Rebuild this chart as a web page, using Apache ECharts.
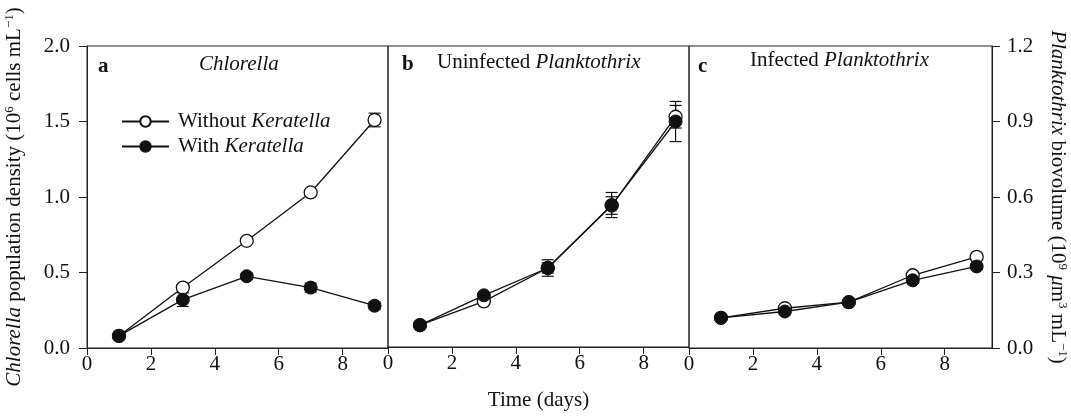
<!DOCTYPE html>
<html>
<head>
<meta charset="utf-8">
<script src="https://cdn.jsdelivr.net/npm/echarts@6/dist/echarts.min.js"></script>
<style>html,body{margin:0;padding:0;background:#fff}#c{width:1071px;height:416px}</style>
</head>
<body>
<div id="c"></div>
<script>
// ---- data ----
const days = [1, 3, 5, 7, 9];
const xTickValues = [0, 2, 4, 6, 8];

const chlorellaWithout = [0.08, 0.40, 0.71, 1.03, 1.51];
const chlorellaWithoutErr = [0.005, 0.01, 0.015, 0.02, 0.045];
const chlorellaWith = [0.08, 0.32, 0.475, 0.40, 0.28];
const chlorellaWithErr = [0.005, 0.045, 0.02, 0.03, 0.025];

const uninfWithout = [0.087, 0.182, 0.315, 0.564, 0.918];
const uninfWithoutErr = [0.004, 0.01, 0.02, 0.035, 0.045];
const uninfWith = [0.087, 0.206, 0.315, 0.566, 0.899];
const uninfWithErr = [0.004, 0.01, 0.033, 0.05, 0.08];

const infWithout = [0.12, 0.158, 0.182, 0.289, 0.362];
const infWithoutErr = [0.003, 0.006, 0.006, 0.008, 0.01];
const infWith = [0.12, 0.145, 0.182, 0.269, 0.324];
const infWithErr = [0.003, 0.006, 0.006, 0.008, 0.01];

const NAME_WITHOUT = 'Without Keratella';
const NAME_WITH = 'With Keratella';

// ---- style ----
const FONT = 'Liberation Serif';
const INK = '#111';
const FS = 21;

const rich = {
  i: {fontStyle: 'italic', fontWeight: 'normal', fontFamily: FONT, fontSize: FS, color: INK},
  n: {fontWeight: 'normal', fontFamily: FONT, fontSize: FS, color: INK},
  sup: {fontWeight: 'normal', fontFamily: FONT, fontSize: 13, color: INK, verticalAlign: 'top'},
  b: {fontWeight: 'bold', fontFamily: FONT, fontSize: FS, color: INK}
};

const grids = [
  {left: 87, top: 46, width: 301, height: 302},
  {left: 388, top: 46, width: 301, height: 302},
  {left: 689, top: 46, width: 303, height: 302}
].map(g => Object.assign(g, {show: true, borderColor: '#222', borderWidth: 1, backgroundColor: 'transparent'}));

const XMAX = 9.42;
const xAxes = [0, 1, 2].map(i => ({
  type: 'value', gridIndex: i, min: 0, max: i === 2 ? 9.48 : XMAX,
  axisLine: {show: true, onZero: false, lineStyle: {color: '#222', width: 1}},
  axisTick: {show: true, length: 7, lineStyle: {color: '#222'}, customValues: xTickValues},
  axisLabel: {show: true, margin: 6, customValues: xTickValues, fontFamily: FONT, fontSize: FS, color: INK,
    formatter: v => String(v)},
  splitLine: {show: false},
  name: i === 1 ? 'Time (days)' : '',
  nameLocation: 'middle', nameGap: 43,
  nameTextStyle: {fontFamily: FONT, fontSize: FS, color: INK}
}));

const yAxes = [
  {
    type: 'value', gridIndex: 0, min: 0, max: 2.0, interval: 0.5, position: 'left',
    axisLine: {show: true, onZero: false, lineStyle: {color: '#222'}},
    axisTick: {show: true, length: 8, lineStyle: {color: '#222'}},
    axisLabel: {margin: 17, fontFamily: FONT, fontSize: FS, color: INK, formatter: v => v.toFixed(1)},
    splitLine: {show: false},
    name: '{i|Chlorella}{n| population density (10}{sup|6}{n| cells mL}{sup|−1}{n|)}',
    nameLocation: 'middle', nameRotate: 90, nameGap: 62,
    nameTextStyle: {rich: rich, lineHeight: 22}
  },
  {
    type: 'value', gridIndex: 1, min: 0, max: 1.2, interval: 0.3, show: false
  },
  {
    type: 'value', gridIndex: 2, min: 0, max: 1.2, interval: 0.3, position: 'right',
    axisLine: {show: true, onZero: false, lineStyle: {color: '#222'}},
    axisTick: {show: true, length: 8, lineStyle: {color: '#222'}},
    axisLabel: {margin: 15, fontFamily: FONT, fontSize: FS, color: INK, formatter: v => v.toFixed(1)},
    splitLine: {show: false},
    name: '{i|Planktothrix}{n| biovolume (10}{sup|9}{n| }{i|μ}{n|m}{sup|3}{n| mL}{sup|−1}{n|)}',
    nameLocation: 'middle', nameRotate: -90, nameGap: 55,
    nameTextStyle: {rich: rich, lineHeight: 22}
  }
];

function lineSeries(name, vals, idx, hollow) {
  return {
    type: 'line', name: name, xAxisIndex: idx, yAxisIndex: idx,
    data: days.map((d, i) => [d, vals[i]]),
    symbol: 'circle', symbolSize: 13, z: 3,
    lineStyle: {color: INK, width: 1.3},
    itemStyle: hollow ? {color: '#fff', borderColor: INK, borderWidth: 1.3}
                      : {color: INK, borderColor: INK, borderWidth: 1},
    emphasis: {disabled: true},
    animation: false
  };
}

function errSeries(vals, errs, idx) {
  return {
    type: 'custom', xAxisIndex: idx, yAxisIndex: idx, z: 1,
    data: days.map((d, i) => [d, vals[i], errs[i]]),
    encode: {x: 0, y: 1},
    silent: true, animation: false,
    renderItem: function (params, api) {
      const x = api.value(0), y = api.value(1), e = api.value(2);
      const top = api.coord([x, y + e]);
      const bot = api.coord([x, y - e]);
      const w = 6;
      const st = {stroke: INK, lineWidth: 1.2};
      return {
        type: 'group',
        children: [
          {type: 'line', shape: {x1: top[0], y1: top[1], x2: bot[0], y2: bot[1]}, style: st},
          {type: 'line', shape: {x1: top[0] - w, y1: top[1], x2: top[0] + w, y2: top[1]}, style: st},
          {type: 'line', shape: {x1: bot[0] - w, y1: bot[1], x2: bot[0] + w, y2: bot[1]}, style: st}
        ]
      };
    }
  };
}

const series = [
  errSeries(chlorellaWithout, chlorellaWithoutErr, 0),
  errSeries(chlorellaWith, chlorellaWithErr, 0),
  errSeries(uninfWithout, uninfWithoutErr, 1),
  errSeries(uninfWith, uninfWithErr, 1),
  errSeries(infWithout, infWithoutErr, 2),
  errSeries(infWith, infWithErr, 2),
  lineSeries(NAME_WITHOUT, chlorellaWithout, 0, true),
  lineSeries(NAME_WITH, chlorellaWith, 0, false),
  lineSeries(NAME_WITHOUT, uninfWithout, 1, true),
  lineSeries(NAME_WITH, uninfWith, 1, false),
  lineSeries(NAME_WITHOUT, infWithout, 2, true),
  lineSeries(NAME_WITH, infWith, 2, false)
];

const titleBase = {padding: 0, textStyle: {rich: rich, fontFamily: FONT, fontSize: FS, fontWeight: 'normal', color: INK}};
const titles = [
  {text: '{b|a}', left: 98, top: 56},
  {text: '{i|Chlorella}', left: 199, top: 54},
  {text: '{b|b}', left: 402, top: 54},
  {text: '{n|Uninfected }{i|Planktothrix}', left: 437, top: 52},
  {text: '{b|c}', left: 698, top: 56},
  {text: '{n|Infected }{i|Planktothrix}', left: 750, top: 50}
].map(t => Object.assign({}, titleBase, t));

const chart = echarts.init(document.getElementById('c'), null, {renderer: 'canvas'});
chart.setOption({
  animation: false,
  backgroundColor: '#fff',
  title: titles,
  legend: {
    data: [NAME_WITHOUT, NAME_WITH],
    orient: 'vertical', left: 121, top: 111, padding: 0,
    itemWidth: 47, itemHeight: 13, itemGap: 4,
    selectedMode: false,
    formatter: name => name.replace('Keratella', '{i|Keratella}').replace(/^(\w+) /, '{n|$1 }'),
    textStyle: {rich: rich, fontFamily: FONT, fontSize: FS, color: INK, padding: [0, 0, 0, 4]}
  },
  grid: grids,
  xAxis: xAxes,
  yAxis: yAxes,
  series: series
});
</script>
</body>
</html>
